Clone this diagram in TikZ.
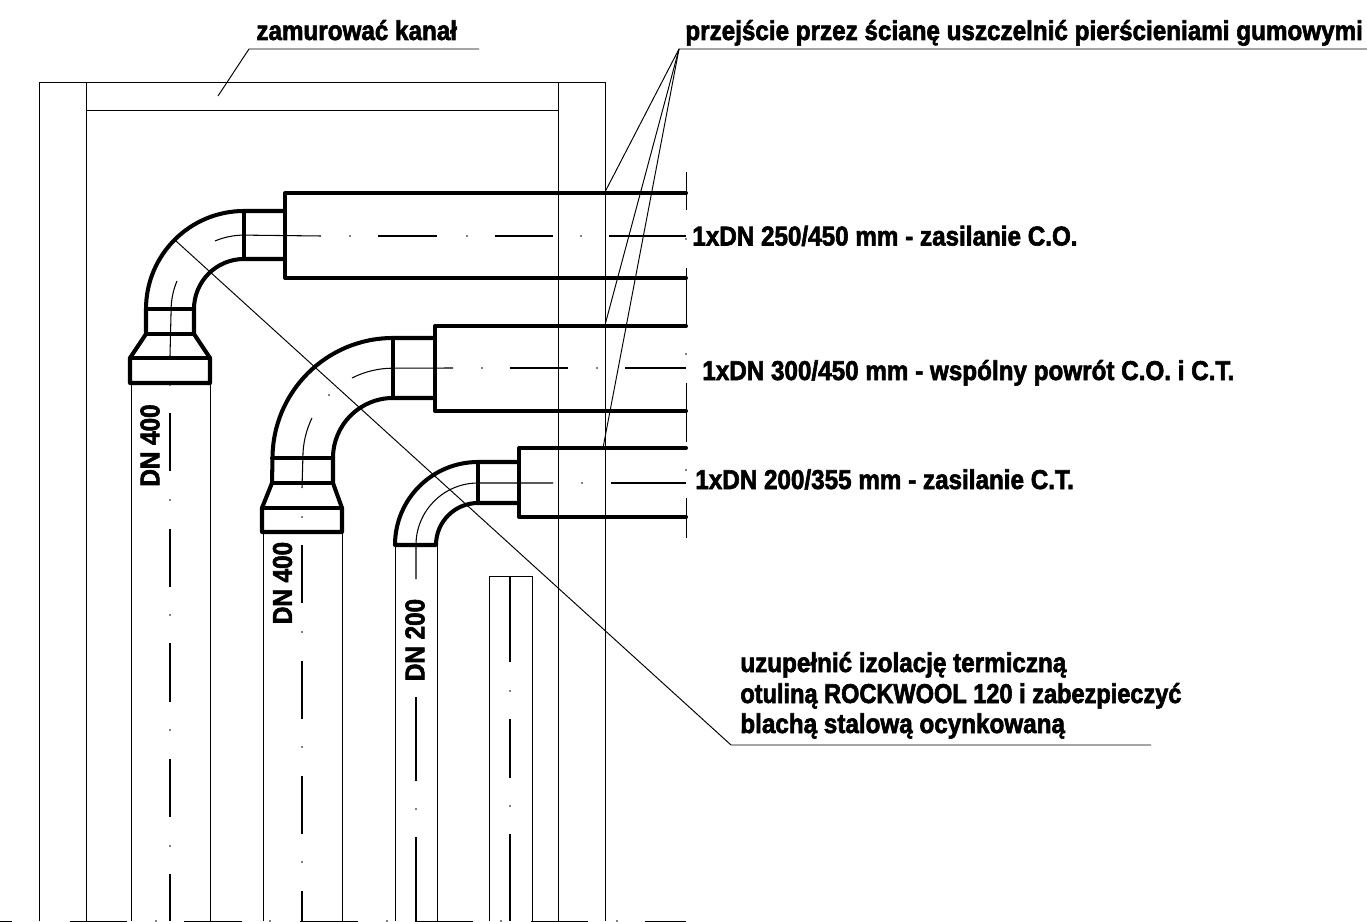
\documentclass[tikz,border=0pt]{standalone}
\usepackage{fontspec}
\setmainfont[FakeStretch=0.89,BoldFeatures={FakeBold=2.2}]{Liberation Sans}

\begin{document}
\begin{tikzpicture}[x=0.02cm,y=0.02cm]
\tikzstyle{every node}+=[inner sep=0pt]
\tikzstyle{pipe}=[black,line width=2.3pt,line cap=round,line join=round]
\tikzstyle{thin line}=[black,line width=0.55pt]
\tikzstyle{axis}=[black,line width=0.6pt]
\tikzstyle{opis}=[anchor=base west,font=\fontsize{15.5}{17}\selectfont\bfseries]
\useasboundingbox (0,0) rectangle (1367,-922);
% walls and bricked-up channel
\draw [thin line] (39,-921) -- (39,-82) -- (605,-82) -- (605,-921);
\draw [thin line] (86,-921) -- (86,-82);
\draw [thin line] (558,-921) -- (558,-82);
\draw [thin line] (86,-110) -- (558,-110);
% cut line at the bottom
\draw [thin line] (0,-921) -- (12,-921);
\draw [thin line] (70,-921) -- (127,-921);
\draw [thin line] (184,-921) -- (242,-921);
\draw [thin line] (300,-921) -- (358,-921);
\draw [thin line] (415,-921) -- (473,-921);
\draw [thin line] (531,-921) -- (588,-921);
\draw [thin line] (645,-921) -- (686,-921);
\fill (156,-921) circle (0.8);
\fill (270,-921) circle (0.8);
\fill (387,-921) circle (0.8);
\fill (501,-921) circle (0.8);
\fill (617,-921) circle (0.8);
% cut line on the right
\draw [thin line] (686,-172) -- (686,-210);
\draw [thin line] (686,-268) -- (686,-327);
\draw [thin line] (686,-383) -- (686,-442);
\draw [thin line] (686,-498) -- (686,-538);
\fill (686,-239) circle (0.8);
\fill (686,-354) circle (0.8);
\fill (686,-470) circle (0.8);
% pipe 1
\draw [pipe] (686,-193) -- (285,-193) -- (285,-278) -- (686,-278);
\draw [pipe] (285,-211) -- (244,-211) arc (90:180:98) -- (146,-334) -- (130,-358) -- (130,-383) -- (210,-383) -- (210,-358) -- (194,-334) -- (194,-309) arc (180:90:50) -- (285,-259);
\draw [pipe] (244,-211) -- (244,-259);
\draw [pipe] (146,-309) -- (194,-309);
\draw [pipe] (146,-334) -- (194,-334);
\draw [pipe] (130,-358) -- (210,-358);
\draw [thin line] (131,-383) -- (131,-921);
\draw [thin line] (210,-383) -- (210,-921);
\draw [axis] (215,-241) arc (113:90:74) -- (321,-236);
\draw [axis] (378,-236) -- (437,-236);
\draw [axis] (495,-236) -- (553,-236);
\draw [axis] (609,-236) -- (686,-236);
\fill (350,-236) circle (0.8);
\fill (467,-236) circle (0.8);
\fill (581,-236) circle (0.8);
\draw [axis] (177,-281) arc (157:180:74) -- (170,-356);
\draw [axis] (170,-413) -- (170,-471);
\draw [axis] (170,-529) -- (170,-587);
\draw [axis] (170,-643) -- (170,-702);
\draw [axis] (170,-759) -- (170,-817);
\draw [axis] (170,-874) -- (170,-921);
\fill (170,-385) circle (0.8);
\fill (170,-500) circle (0.8);
\fill (170,-615) circle (0.8);
\fill (170,-730) circle (0.8);
\fill (170,-846) circle (0.8);
% pipe 2
\draw [pipe] (686,-326) -- (435,-326) -- (435,-411) -- (686,-411);
\draw [pipe] (435,-338) -- (393,-338) arc (90:180:120.5) -- (272,-483) -- (262,-508) -- (262,-532) -- (342,-532) -- (342,-508) -- (333,-483) -- (333,-458) arc (180:90:60) -- (435,-398);
\draw [pipe] (393,-338) -- (393,-398);
\draw [pipe] (272,-458) -- (333,-458);
\draw [pipe] (272,-483) -- (333,-483);
\draw [pipe] (262,-508) -- (342,-508);
\draw [thin line] (263,-532) -- (263,-921);
\draw [thin line] (342,-532) -- (342,-921);
\draw [axis] (352,-378) arc (117:90:90) -- (453,-368);
\draw [axis] (510,-368) -- (568,-368);
\draw [axis] (625,-368) -- (686,-368);
\fill (482,-368) circle (0.8);
\fill (597,-368) circle (0.8);
\fill (329,-395) circle (0.8);
\draw [axis] (312,-418) arc (154:180:90) -- (302,-488);
\draw [axis] (302,-545) -- (302,-603);
\draw [axis] (302,-661) -- (302,-719);
\draw [axis] (302,-776) -- (302,-834);
\draw [axis] (302,-891) -- (302,-921);
\fill (302,-517) circle (0.8);
\fill (302,-632) circle (0.8);
\fill (302,-747) circle (0.8);
\fill (302,-862) circle (0.8);
% pipe 3
\draw [pipe] (686,-448) -- (519,-448) -- (519,-517) -- (686,-517);
\draw [pipe] (519,-462) -- (478,-462) arc (90:180:83) -- (436,-545) arc (180:90:42) -- (519,-503);
\draw [pipe] (478,-462) -- (478,-503);
\draw [thin line] (395,-545) -- (395,-921);
\draw [thin line] (437,-545) -- (437,-921);
\draw [axis] (553,-483) -- (478,-483) arc (90:180:62) -- (416,-579);
\draw [axis] (611,-483) -- (686,-483);
\fill (582,-483) circle (0.8);
\draw [axis] (416,-697) -- (416,-781);
\draw [axis] (416,-837) -- (416,-921);
\fill (416,-809) circle (0.8);
% opening in the wall
\draw [thin line] (489,-921) -- (489,-576) -- (532,-576) -- (532,-921);
\draw [axis] (510,-576) -- (510,-662);
\draw [axis] (510,-719) -- (510,-778);
\draw [axis] (510,-834) -- (510,-921);
\fill (510,-691) circle (0.8);
\fill (510,-806) circle (0.8);
% labels
\node [opis] (kanal) at (256,-40) {zamurować kanał};
\node [opis] (uszczelnic) at (685,-40) {przejście przez ścianę uszczelnić pierścieniami gumowymi};
\node [opis] (dn250) at (692,-245.5) {1xDN 250/450 mm - zasilanie C.O.};
\node [opis] (dn300) at (702,-380) {1xDN 300/450 mm - wspólny powrót C.O. i C.T.};
\node [opis] (dn200) at (695,-489) {1xDN 200/355 mm - zasilanie C.T.};
\node [opis] (izolacja1) at (740,-672) {uzupełnić izolację termiczną};
\node [opis] (izolacja2) at (740,-703) {\addfontfeature{FakeStretch=0.865}otuliną ROCKWOOL 120 i zabezpieczyć};
\node [opis] (izolacja3) at (740,-733) {blachą stalową ocynkowaną};
\node [opis,rotate=90,anchor=center] (dn400a) at (150,-445.5) {DN 400};
\node [opis,rotate=90,anchor=center] (dn400b) at (282.5,-583) {DN 400};
\node [opis,rotate=90,anchor=center] (dn200a) at (415,-640) {DN 200};
% leaders
\coordinate (kanal start) at (249,-49);
\coordinate (uszczelnic start) at (679,-49);
\coordinate (izolacja start) at (731,-745);
\draw [thin line] (479,-49) -- (kanal start) -- (218,-96);
\draw [thin line] (1367,-49) -- (uszczelnic start) -- (605,-192);
\draw [thin line] (uszczelnic start) -- (605,-325);
\draw [thin line] (uszczelnic start) -- (603,-448);
\draw [thin line] (1151,-745) -- (izolacja start) -- (176,-241);
\end{tikzpicture}
\end{document}
